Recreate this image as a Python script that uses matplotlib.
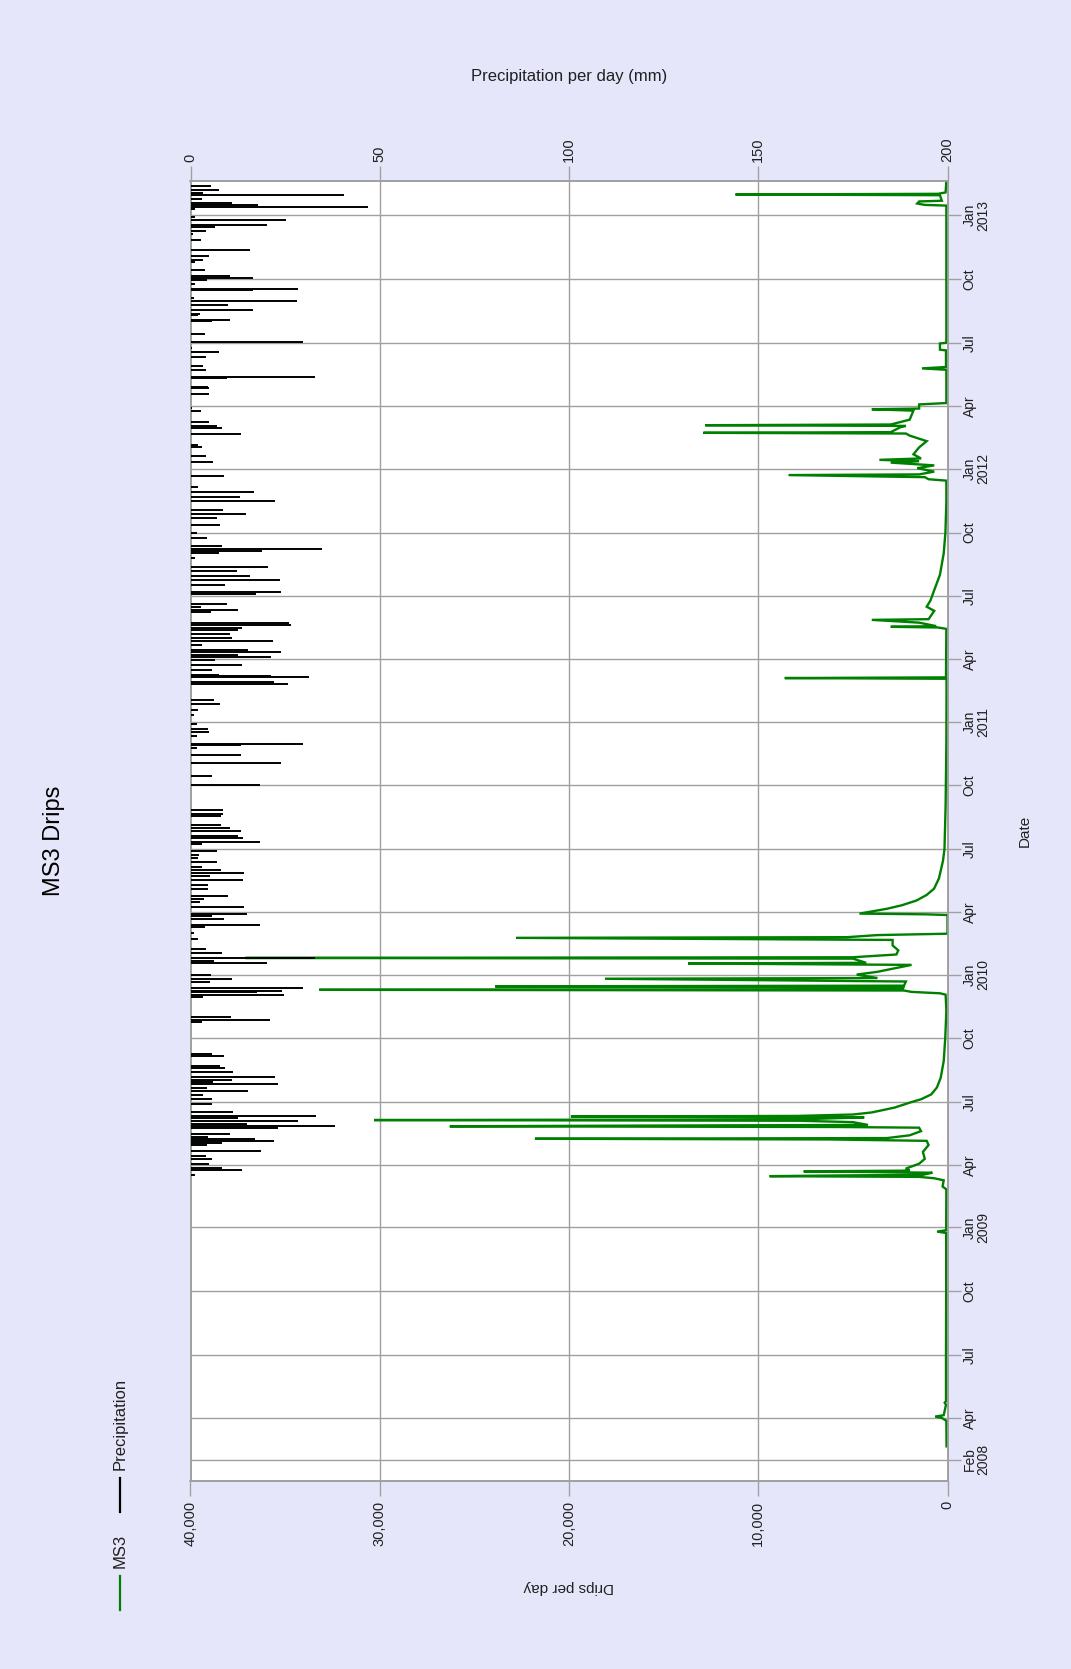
import matplotlib
matplotlib.use("Agg")
import matplotlib.pyplot as plt
import matplotlib.dates as mdates
import pandas as pd
from matplotlib.lines import Line2D

plt.rcParams['font.family'] = ['Liberation Sans', 'DejaVu Sans']

BG = '#E6E6FA'
GRID = '#A0A0A0'
TEXT = '#202020'
GREEN = '#008000'

# MS3 daily drip counts (date, drips per day)
ms3_dates = [
    "2008-02-20", "2008-03-28", "2008-04-01", "2008-04-03", "2008-04-05", "2008-04-20",
    "2008-04-23", "2008-04-25", "2008-07-01", "2008-10-01", "2008-12-24", "2008-12-26",
    "2008-12-28", "2009-02-25", "2009-03-01", "2009-03-10", "2009-03-13", "2009-03-15",
    "2009-03-16", "2009-03-17", "2009-03-18", "2009-03-21", "2009-03-23", "2009-03-24",
    "2009-03-27", "2009-04-03", "2009-04-10", "2009-04-20", "2009-04-30", "2009-05-06",
    "2009-05-08", "2009-05-09", "2009-05-10", "2009-05-14", "2009-05-20", "2009-05-25",
    "2009-05-26", "2009-05-27", "2009-05-28", "2009-05-29", "2009-06-02", "2009-06-04",
    "2009-06-05", "2009-06-06", "2009-06-09", "2009-06-10", "2009-06-11", "2009-06-13",
    "2009-06-16", "2009-06-23", "2009-07-01", "2009-07-05", "2009-07-12", "2009-07-22",
    "2009-08-05", "2009-08-29", "2009-10-01", "2009-11-10", "2009-12-03", "2009-12-05",
    "2009-12-07", "2009-12-09", "2009-12-10", "2009-12-11", "2009-12-14", "2009-12-15",
    "2009-12-16", "2009-12-22", "2009-12-26", "2009-12-27", "2010-01-01", "2010-01-05",
    "2010-01-15", "2010-01-17", "2010-01-18", "2010-01-24", "2010-01-25", "2010-01-26",
    "2010-01-30", "2010-02-05", "2010-02-12", "2010-02-20", "2010-02-23", "2010-02-24",
    "2010-02-27", "2010-03-01", "2010-03-28", "2010-03-29", "2010-03-30", "2010-04-06",
    "2010-04-11", "2010-04-18", "2010-04-26", "2010-05-05", "2010-05-20", "2010-06-14",
    "2010-07-01", "2010-09-01", "2010-12-01", "2011-03-04", "2011-03-05", "2011-03-06",
    "2011-05-15", "2011-05-17", "2011-05-18", "2011-05-19", "2011-05-24", "2011-05-28",
    "2011-05-29", "2011-06-10", "2011-06-16", "2011-06-25", "2011-07-10", "2011-08-01",
    "2011-09-01", "2011-10-01", "2011-11-15", "2011-12-15", "2011-12-17", "2011-12-20",
    "2011-12-23", "2011-12-24", "2011-12-28", "2012-01-02", "2012-01-06", "2012-01-10",
    "2012-01-12", "2012-01-14", "2012-01-16", "2012-01-22", "2012-02-01", "2012-02-10",
    "2012-02-18", "2012-02-21", "2012-02-22", "2012-02-23", "2012-03-01", "2012-03-03",
    "2012-03-04", "2012-03-05", "2012-03-12", "2012-03-25", "2012-03-27", "2012-03-28",
    "2012-04-03", "2012-04-05", "2012-05-23", "2012-05-25", "2012-05-27", "2012-06-20",
    "2012-06-21", "2012-06-30", "2012-07-01", "2013-01-15", "2013-01-16", "2013-01-18",
    "2013-01-21", "2013-01-22", "2013-01-30", "2013-01-31", "2013-02-01", "2013-02-03",
    "2013-02-19",
]
ms3_drips = [
    50, 60, 300, 650, 200, 80,
    150, 80, 80, 70, 70, 550,
    70, 60, 260, 200, 700, 1500,
    9400, 5900, 1300, 800, 7600, 2000,
    2200, 1500, 1200, 1300, 1000, 1100,
    6200, 21800, 3200, 2000, 1400, 1500,
    5800, 26300, 16200, 4200, 5000, 7800,
    30300, 7800, 4400, 19900, 7900, 5000,
    4000, 2800, 1900, 1400, 860, 560,
    360, 200, 120, 60, 100, 400,
    1900, 2300, 33200, 2400, 2300, 23900,
    2300, 2200, 18100, 3700, 4800, 3700,
    1900, 13700, 4300, 5000, 37100, 5000,
    2700, 2600, 2900, 2900, 22800, 5300,
    3700, 0, 0, 1200, 4650, 3200,
    2420, 1630, 1100, 710, 450, 240,
    160, 100, 60, 50, 8600, 80,
    60, 500, 3000, 600, 1500, 4000,
    1000, 700, 1100, 900, 700, 400,
    200, 110, 60, 60, 1000, 1200,
    8400, 1500, 700, 1600, 700, 3000,
    1500, 3600, 1400, 1800, 1500, 1100,
    2000, 2200, 12900, 3000, 2500, 2200,
    12800, 3000, 2000, 1800, 4000, 1500,
    1500, 60, 60, 1350, 80, 80,
    400, 400, 60, 60, 1200, 1600,
    1500, 300, 400, 11200, 500, 100,
    60,
]

# Daily precipitation (date, mm)
rain_dates = [
    "2013-02-13", "2013-02-07", "2013-02-02", "2013-01-30", "2013-01-25", "2013-01-19",
    "2013-01-16", "2013-01-13", "2013-01-10", "2012-12-29", "2012-12-25", "2012-12-18",
    "2012-12-15", "2012-12-09", "2012-12-05", "2012-11-26", "2012-11-12", "2012-11-03",
    "2012-10-29", "2012-10-25", "2012-10-14", "2012-10-06", "2012-10-02", "2012-09-30",
    "2012-09-24", "2012-09-17", "2012-09-15", "2012-09-04", "2012-08-31", "2012-08-24",
    "2012-08-18", "2012-08-12", "2012-08-10", "2012-08-03", "2012-08-01", "2012-07-13",
    "2012-07-02", "2012-06-23", "2012-06-17", "2012-06-10", "2012-05-28", "2012-05-22",
    "2012-05-13", "2012-05-11", "2012-04-28", "2012-04-26", "2012-04-18", "2012-03-29",
    "2012-03-24", "2012-03-08", "2012-03-03", "2012-02-29", "2012-02-21", "2012-02-04",
    "2012-02-01", "2012-01-20", "2012-01-11", "2011-12-22", "2011-12-06", "2011-11-29",
    "2011-11-22", "2011-11-16", "2011-11-03", "2011-10-28", "2011-10-22", "2011-10-12",
    "2011-09-30", "2011-09-23", "2011-09-11", "2011-09-07", "2011-09-04", "2011-09-01",
    "2011-08-25", "2011-08-13", "2011-08-06", "2011-07-31", "2011-07-24", "2011-07-18",
    "2011-07-07", "2011-07-04", "2011-06-20", "2011-06-16", "2011-06-11", "2011-06-08",
    "2011-05-24", "2011-05-21", "2011-05-16", "2011-05-13", "2011-05-07", "2011-05-02",
    "2011-04-27", "2011-04-22", "2011-04-15", "2011-04-11", "2011-04-08", "2011-04-05",
    "2011-03-31", "2011-03-24", "2011-03-17", "2011-03-10", "2011-03-08", "2011-03-06",
    "2011-02-28", "2011-02-25", "2011-02-01", "2011-01-26", "2011-01-18", "2011-01-11",
    "2010-12-28", "2010-12-21", "2010-12-17", "2010-12-11", "2010-11-30", "2010-11-28",
    "2010-11-24", "2010-11-14", "2010-11-03", "2010-11-02", "2010-10-14", "2010-10-02",
    "2010-08-26", "2010-08-21", "2010-08-18", "2010-08-05", "2010-08-01", "2010-07-27",
    "2010-07-20", "2010-07-17", "2010-07-12", "2010-07-08", "2010-06-28", "2010-06-22",
    "2010-06-18", "2010-06-12", "2010-06-05", "2010-06-01", "2010-05-27", "2010-05-23",
    "2010-05-17", "2010-05-11", "2010-05-04", "2010-04-24", "2010-04-20", "2010-04-16",
    "2010-04-08", "2010-03-30", "2010-03-26", "2010-03-22", "2010-03-14", "2010-03-10",
    "2010-03-02", "2010-02-21", "2010-02-07", "2010-02-01", "2010-01-25", "2010-01-20",
    "2010-01-17", "2009-12-31", "2009-12-25", "2009-12-22", "2009-12-12", "2009-12-09",
    "2009-12-07", "2009-12-02", "2009-11-29", "2009-11-01", "2009-10-28", "2009-10-25",
    "2009-09-09", "2009-09-06", "2009-08-22", "2009-08-19", "2009-08-13", "2009-08-06",
    "2009-08-02", "2009-07-30", "2009-07-27", "2009-07-22", "2009-07-17", "2009-07-11",
    "2009-07-06", "2009-06-28", "2009-06-16", "2009-06-11", "2009-06-08", "2009-06-04",
    "2009-05-31", "2009-05-28", "2009-05-25", "2009-05-16", "2009-05-12", "2009-05-08",
    "2009-05-06", "2009-05-03", "2009-04-30", "2009-04-21", "2009-04-14", "2009-04-10",
    "2009-04-03", "2009-03-28", "2009-03-25", "2009-03-18",
]
rain_mm = [
    5.4, 7.4, 3.4, 40.6, 3.0, 10.9,
    17.9, 46.8, 1.2, 1.2, 25.1, 20.2,
    6.5, 4.0, 0.7, 2.8, 15.8, 4.9,
    3.4, 1.2, 3.8, 10.5, 16.5, 4.3,
    1.2, 28.5, 16.5, 1.0, 28.1, 9.8,
    16.5, 2.5, 2.1, 10.5, 5.6, 3.8,
    29.8, 0.5, 7.6, 4.0, 3.4, 4.0,
    32.9, 9.6, 4.7, 4.9, 4.9, 0.3,
    2.8, 4.9, 6.9, 8.4, 13.3, 2.1,
    3.1, 4.0, 6.0, 8.9, 2.1, 16.7,
    13.0, 22.3, 8.7, 14.6, 7.0, 7.8,
    1.6, 4.4, 8.2, 34.7, 18.8, 7.6,
    1.2, 20.4, 12.2, 15.8, 23.6, 9.1,
    23.8, 17.2, 9.6, 2.8, 12.6, 5.4,
    26.0, 26.5, 13.5, 12.5, 10.4, 10.9,
    21.9, 3.1, 15.3, 23.9, 12.5, 21.4,
    6.6, 13.5, 5.8, 7.4, 21.4, 31.3,
    22.1, 25.8, 6.3, 7.8, 2.1, 1.0,
    1.8, 4.5, 4.9, 1.6, 29.8, 13.3,
    1.6, 13.3, 23.8, 2.0, 5.6, 18.3,
    8.7, 8.7, 8.1, 8.1, 10.4, 13.3,
    12.6, 14.0, 18.3, 3.1, 6.9, 2.2,
    2.1, 6.9, 3.1, 8.1, 14.2, 5.2,
    14.0, 4.5, 4.5, 9.8, 3.5, 2.4,
    14.2, 14.8, 5.6, 8.8, 18.3, 3.8,
    1.0, 2.1, 4.0, 8.2, 32.9, 6.3,
    20.1, 5.4, 10.9, 5.2, 29.8, 24.1,
    17.5, 24.8, 3.4, 10.7, 21.0, 3.0,
    5.6, 8.9, 7.8, 9.1, 11.1, 22.3,
    10.9, 6.0, 23.2, 4.3, 15.1, 3.4,
    5.6, 5.8, 11.1, 33.1, 12.6, 28.5,
    14.8, 38.2, 23.2, 10.4, 4.7, 17.0,
    22.0, 8.4, 4.3, 18.6, 4.0, 5.6,
    4.9, 8.2, 13.7, 1.2,
]

drip_ticks = [0, 10000, 20000, 30000, 40000]
rain_ticks = [0, 50, 100, 150, 200]
date_ticks = [
    "2008-02-01", "2008-04-01", "2008-07-01", "2008-10-01",
    "2009-01-01", "2009-04-01", "2009-07-01", "2009-10-01",
    "2010-01-01", "2010-04-01", "2010-07-01", "2010-10-01",
    "2011-01-01", "2011-04-01", "2011-07-01", "2011-10-01",
    "2012-01-01", "2012-04-01", "2012-07-01", "2012-10-01",
    "2013-01-01",
]
date_tick_labels = [
    "Feb\n2008", "Apr", "Jul", "Oct",
    "Jan\n2009", "Apr", "Jul", "Oct",
    "Jan\n2010", "Apr", "Jul", "Oct",
    "Jan\n2011", "Apr", "Jul", "Oct",
    "Jan\n2012", "Apr", "Jul", "Oct",
    "Jan\n2013",
]
date_start, date_end = "2008-01-01", "2013-02-19 12:00"


def to_num(seq):
    return mdates.date2num(pd.to_datetime(seq))


W, H = 1071, 1669
fig = plt.figure(figsize=(W / 100, H / 100), dpi=100)
fig.patch.set_facecolor(BG)

left, right, top, bottom = 190.5, 947.5, 181, 1481
ax = fig.add_axes([left / W, 1 - bottom / H, (right - left) / W, (bottom - top) / H])
ax.set_facecolor('white')

# Drip counts: horizontal value axis running right-to-left, dates upward
ax.set_xlim(40000, 0)
ax.set_ylim(to_num([date_start])[0], to_num([date_end])[0])
ax.plot(ms3_drips, to_num(ms3_dates), color=GREEN, lw=1.7, solid_joinstyle='miter', zorder=3)

ax.set_xticks(drip_ticks)
ax.set_xticklabels([f"{v:,}" for v in drip_ticks], rotation=90)
ax.set_yticks(to_num(date_ticks))
ax.yaxis.tick_right()
ax.set_yticklabels(date_tick_labels, rotation=90, va='center', ha='left')
for t in ax.get_yticklabels():
    t.set_multialignment('center')
    t.set_linespacing(0.95)

ax.grid(True, color=GRID, lw=1.0)
ax.set_axisbelow(True)
ax.tick_params(axis='x', direction='out', length=11, width=1, color=GRID,
               labelsize=10.5, labelcolor=TEXT, pad=3)
ax.tick_params(axis='y', direction='out', length=9, width=1, color=GRID,
               labelsize=10, labelcolor=TEXT, pad=2)
for s in ax.spines.values():
    s.set_color(GRID)
    s.set_linewidth(1.2)

ax.set_xlabel('Drips per day', rotation=180, fontsize=11, color=TEXT, va='center')
ax.xaxis.set_label_coords(0.5, -(1587 - bottom) / (bottom - top))
ax.yaxis.set_label_position('right')
ax.set_ylabel('Date', rotation=90, fontsize=11, color=TEXT, va='center')
ax.yaxis.set_label_coords(1 + (1025 - right) / (right - left), 0.5)

# Precipitation on a twin axis along the top
ax2 = ax.twiny()
ax2.set_xlim(0, 200)
ax2.hlines(to_num(rain_dates), 0, rain_mm, color='black', lw=1.4, zorder=4)
ax2.set_xticks(rain_ticks)
ax2.set_xticklabels([str(v) for v in rain_ticks], rotation=90)
ax2.tick_params(axis='x', direction='out', length=11, width=1, color=GRID,
                labelsize=10.5, labelcolor=TEXT, pad=3)
for s in ax2.spines.values():
    s.set_color(GRID)
    s.set_linewidth(1.2)
ax2.set_xlabel('Precipitation per day (mm)', fontsize=12, color=TEXT, va='center')
ax2.xaxis.set_label_coords(0.5, 1 + (top - 76.7) / (bottom - top))

# Title
fig.text(54 / W, 1 - 841 / H, 'MS3 Drips', rotation=90, fontsize=17,
         color='black', ha='center', va='center')

# Legend, written bottom-to-top
lx = 120 / W
fig.add_artist(Line2D([lx, lx], [1 - 1610 / H, 1 - 1576 / H], color=GREEN, lw=1.6,
                      transform=fig.transFigure))
fig.text(lx, 1 - 1568 / H, 'MS3', rotation=90, fontsize=12, color=TEXT,
         ha='center', va='bottom')
fig.add_artist(Line2D([lx, lx], [1 - 1512 / H, 1 - 1478 / H], color='black', lw=1.6,
                      transform=fig.transFigure))
fig.text(lx, 1 - 1470 / H, 'Precipitation', rotation=90, fontsize=12, color=TEXT,
         ha='center', va='bottom')

fig.savefig('out.png', dpi=100, facecolor=BG)
